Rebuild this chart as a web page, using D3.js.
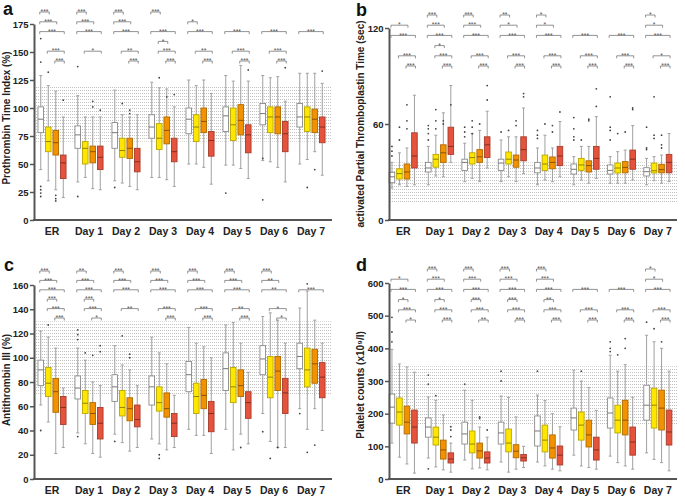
<!DOCTYPE html>
<html>
<head>
<meta charset="utf-8">
<script src="https://cdn.jsdelivr.net/npm/d3@7"></script>
<style>
body { margin: 0; background: #fff; }
text { font-family: "Liberation Sans", Arial, sans-serif; }
</style>
</head>
<body>
<div id="chart"></div>
<script>
// Width and height
var chart_width  = 685;
var chart_height = 498;

// categories and groups
var days   = ["ER", "Day 1", "Day 2", "Day 3", "Day 4", "Day 5", "Day 6", "Day 7"];
var groups = ["g1", "g2", "g3", "g4"];
var group_fill = ["#ffffff", "#ffe600", "#f39200", "#e5533c"];

// box stats per day, per group: [low whisker, q1, median, q3, high whisker]
var pt_stats = [
  [[45,78,90,101,129],[35,61,70,83,120],[27,58,69,80,115],[20,37,51,58,92]],
  [[34,64,76,84,111],[38,50,64,70,92],[28,51,61,66,92],[27,45,56,66,92]],
  [[35,64,78,87,116],[33,56,62,73,94],[30,55,64,73,92],[27,43,52,64,94]],
  [[38,73,83,94,123],[38,63,73,86,118],[36,68,80,92,117],[30,52,61,73,101]],
  [[50,77,90,100,125],[50,70,83,94,120],[47,78,88,100,125],[32,57,71,79,113]],
  [[49,79,93,101,129],[49,71,85,100,124],[46,76,89,103,138],[37,60,76,85,124]],
  [[53,85,95,104,129],[52,78,92,101,127],[47,77,92,101,128],[34,61,77,88,106]],
  [[50,83,92,104,131],[54,79,92,101,131],[61,78,90,99,131],[40,69,83,92,122]]
];
var aptt_stats = [
  [[20,23.3,27,29.8,36],[22,25.6,29,32,42],[21,25.6,30,35,45],[22,32.5,40,54.5,78]],
  [[22,30,32.5,36,46],[27.5,33,38,41,53],[27,36,42,47,67],[36,41,46,58,84]],
  [[24,31,36,38,48],[26,35,39,42,54],[24,36,39.5,44,56],[32.5,39,47,52,68]],
  [[24,31,35.6,38,50],[27,35,38,42.5,52],[24,33,37.5,40.6,52],[29,37,44,52,70]],
  [[22,29.5,32.5,36,45],[25,31,35,40.6,53],[24,32,36,39.4,45],[27,34,40,46,61.5]],
  [[22,28.7,31.7,35,39.6],[25,31,34.4,38.5,46],[23,30,34,37,46],[26,31.7,38.5,46,64.6]],
  [[23,28.7,31,34.4,39.6],[23,29.4,32.5,35.6,42.7],[23,29.5,32.9,36.5,43.7],[25,31.7,38,43.7,59]],
  [[22,27.5,30.2,32.7,38.5],[24.6,29.4,30.8,35.6,39.6],[23,29.5,31.5,34.8,40.6],[24,29.5,36,41,54]]
];
var at_stats = [
  [[61,77,90,98,122],[47,68,79,92,117],[21,55,72,83,108],[26,45,59,68,75]],
  [[38,66,75,85,108],[29,54,62.5,73,98],[21,45,54,63,80],[18,33,46,59,77]],
  [[37,64,76,86,110],[30,52,59,73,94],[23,48,58,67,90],[26,43,49,61,77]],
  [[33,61,76,85,117],[29,56,63,76,104],[24,51,58,71,95],[26,35,46,54,69]],
  [[41,72,86,97,125],[36,54,68,79,112],[36,58,69,82,109],[21,39,54,64,100]],
  [[41,73,91,104,127],[24,63,76,92,129],[37,68,77,90,112],[29,50,63,72,88]],
  [[54,86,99,110,134],[31,67,84,101,137],[26,73,89,101,131],[26,54,71,83,112]],
  [[58,91,101,112,141],[41,76,90,108,155],[58,79,95,107,131],[40,67,84,96,112]]
];
var plt_stats = [
  [[110,171,220,260,397],[67,165,205,248,352],[46,138,174,223,343],[18,110,159,211,327]],
  [[64,128,159,187,251],[37,104,128,159,241],[28,61,89,119,196],[21,49,61,80,110]],
  [[58,107,138,174,272],[31,80,107,147,241],[34,64,86,110,159],[28,49,64,83,128]],
  [[52,107,141,174,254],[21,83,110,153,250],[30,65,85,105,190],[35,55,65,75,100]],
  [[52,101,147,193,257],[40,83,119,165,240],[30,64,95,135,200],[25,43,73,101,160]],
  [[73,150,187,217,333],[40,119,165,205,300],[35,98,135,180,280],[30,58,89,128,210]],
  [[70,156,202,248,379],[50,141,180,226,330],[40,135,180,241,350],[30,73,113,159,250]],
  [[80,180,226,287,440],[60,156,226,278,420],[50,150,217,272,400],[25,104,144,211,330]]
];

// outliers: [day, group, value]
var pt_out = [
  [0,0,162],[0,0,141],[0,0,30],[0,0,27],[0,0,24],[0,0,21],[0,1,132],[0,2,22],[0,2,19],[0,2,17],[0,3,107],
  [1,0,137],[1,0,21],[1,2,106],[1,2,101],[1,3,98],
  [2,0,29],[2,1,104],[2,2,98],[2,2,95],
  [3,1,127],[3,2,110],[3,3,112],
  [5,0,24],[5,3,134],
  [6,0,18],[6,0,55],[6,3,136],
  [7,1,29],[7,2,45],[7,3,133]
];
var aptt_out = [
  [0,0,46],[0,0,43],[0,0,40],[0,1,50],[0,1,58],[0,2,62],[0,2,72],[0,2,57],
  [1,0,50],[1,0,57],[1,0,59],[1,0,54],[1,1,62],[1,1,69],[1,1,57],[1,2,60],[1,2,62],[1,3,72],
  [2,0,55],[2,0,58],[2,0,52],[2,1,62],[2,1,58],[2,1,54],[2,2,60],[2,3,84],[2,3,75],
  [3,0,55],[3,1,56],[3,2,59],[3,2,62],[3,3,79],[3,3,77],
  [4,0,56],[4,0,53],[4,0,51],[4,1,60],[4,2,59],[4,2,55],[4,3,67.5],
  [5,0,64],[5,0,57],[5,0,52],[5,0,50],[5,1,50],[5,2,63],[5,2,62],[5,3,71],[5,3,82],
  [6,0,77],[6,0,58],[6,0,56],[6,0,50],[6,1,54],[6,2,55],[6,3,69],[6,3,70],
  [7,0,58],[7,0,45],[7,0,44],[7,1,77],[7,1,53],[7,1,51],[7,2,53],[7,2,47],[7,2,45]
];
var at_out = [
  [0,0,40],[0,1,127],
  [1,0,123],[1,0,119],[1,0,115],[1,0,35],[1,1,104],[1,2,102],[1,3,110],[1,3,105],
  [2,0,31],[2,1,118],[2,2,100],[2,2,103],
  [3,1,17],[3,1,20],
  [5,2,26],
  [6,0,39],[6,1,17],[6,2,26],
  [7,0,54],[7,1,22],[7,1,161],[7,2,28]
];
var plt_out = [
  [0,0,495],[0,0,450],[0,0,420],
  [1,0,318],[1,0,290],[1,0,31],[1,1,255],[1,3,130],[1,3,150],[1,3,160],
  [2,0,290],[2,2,185],[2,2,190],[2,3,150],
  [3,0,330],[3,0,300],
  [4,0,330],
  [5,1,330],
  [6,0,420],[6,0,400],[6,0,390],[6,1,380],[6,2,430],[6,2,400],
  [7,0,480],[7,1,460],[7,2,420]
];

// significance: [day, group a, group b, label, level]
var pt_sig = [
  [0,0,1,"***",0],[0,0,2,"***",1],[0,0,3,"***",2],[0,1,3,"***",4],[0,2,3,"***",5],
  [1,0,1,"***",0],[1,0,2,"***",1],[1,0,3,"***",2],[1,1,3,"*",4],
  [2,0,1,"***",0],[2,0,2,"***",1],[2,0,3,"***",2],[2,1,3,"**",4],[2,2,3,"***",5],
  [3,0,1,"***",0],[3,0,3,"***",2],[3,1,2,"*",3],[3,1,3,"***",4],[3,2,3,"***",5],
  [4,0,1,"*",1],[4,0,3,"***",2],[4,1,3,"**",4],[4,2,3,"***",5],
  [5,0,3,"***",2],[5,1,3,"***",4],[5,2,3,"***",5],
  [6,0,3,"***",2],[6,1,3,"***",4],[6,2,3,"***",5],
  [7,0,3,"***",2]
];
var aptt_sig = [
  [0,0,2,"*",1],[0,0,3,"***",2],[0,1,3,"***",4],[0,2,3,"***",5],
  [1,0,1,"***",0],[1,0,2,"***",1],[1,0,3,"***",2],[1,1,2,"*",3],[1,1,3,"***",4],[1,2,3,"***",5],
  [2,0,1,"***",0],[2,0,2,"***",1],[2,0,3,"***",2],[2,1,3,"***",4],[2,2,3,"***",5],
  [3,0,1,"**",0],[3,0,2,"*",1],[3,0,3,"***",2],[3,1,3,"***",4],[3,2,3,"***",5],
  [4,0,1,"*",0],[4,0,2,"*",1],[4,0,3,"***",2],[4,1,3,"***",4],[4,2,3,"***",5],
  [5,0,3,"***",2],[5,1,3,"***",4],[5,2,3,"***",5],
  [6,0,3,"***",2],[6,1,3,"***",4],[6,2,3,"***",5],
  [7,0,1,"*",0],[7,0,2,"*",1],[7,0,3,"***",2],[7,1,3,"*",4],[7,2,3,"***",5]
];
var at_sig = [
  [0,0,1,"***",0],[0,0,2,"***",1],[0,0,3,"***",2],[0,1,2,"***",3],[0,1,3,"***",4],[0,2,3,"***",5],
  [1,0,1,"**",0],[1,0,2,"***",1],[1,0,3,"***",2],[1,1,2,"***",3],[1,1,3,"***",4],[1,2,3,"*",5],
  [2,0,1,"***",0],[2,0,2,"***",1],[2,0,3,"***",2],[2,1,3,"**",4],
  [3,0,1,"***",0],[3,0,2,"***",1],[3,0,3,"***",2],[3,1,3,"***",4],[3,2,3,"***",5],
  [4,0,1,"***",0],[4,0,2,"***",1],[4,0,3,"***",2],[4,1,3,"***",4],[4,2,3,"***",5],
  [5,0,1,"***",0],[5,0,2,"***",1],[5,0,3,"***",2],[5,1,3,"**",4],[5,2,3,"***",5],
  [6,0,1,"***",0],[6,0,2,"**",1],[6,0,3,"**",2],[6,1,3,"*",4],[6,2,3,"*",5],
  [7,0,3,"***",2]
];
var plt_sig = [
  [0,0,2,"*",1],[0,0,3,"***",2],[0,1,2,"*",3],[0,1,3,"***",4],[0,2,3,"*",5],
  [1,0,1,"***",0],[1,0,2,"***",1],[1,0,3,"***",2],[1,1,2,"*",3],[1,1,3,"***",4],[1,2,3,"***",5],
  [2,0,1,"***",0],[2,0,2,"***",1],[2,0,3,"***",2],[2,1,2,"***",3],[2,1,3,"***",4],[2,2,3,"**",5],
  [3,0,1,"***",0],[3,0,2,"***",1],[3,0,3,"***",2],[3,1,2,"***",3],[3,1,3,"***",4],[3,2,3,"***",5],
  [4,0,1,"***",0],[4,0,2,"***",1],[4,0,3,"***",2],[4,1,2,"**",3],[4,1,3,"***",4],[4,2,3,"***",5],
  [5,0,3,"***",2],[5,1,3,"***",4],[5,2,3,"***",5],
  [6,0,3,"***",2],[6,1,3,"***",4],[6,2,3,"***",5],
  [7,0,1,"*",0],[7,0,2,"*",1],[7,0,3,"***",2],[7,1,3,"***",4],[7,2,3,"***",5]
];

// tick values and normal ranges
var pt_ticks   = [0,25,50,75,100,125,150,175];
var aptt_ticks = [0,60,120];
var at_ticks   = [0,20,40,60,80,100,120,140,160];
var plt_ticks  = [0,100,200,300,400,500,600];
var pt_normal   = [70,120];
var aptt_normal = [11,36];
var at_normal   = [70,130];
var plt_normal  = [165,345];

var panels = [
  {letter:"a", lx:3,   ly:15,  stats:pt_stats,   out:pt_out,   sig:pt_sig,   ticks:pt_ticks,   normal:pt_normal,
   title:"Prothrombin Time Index (%)", tx:6, ty:118, axis:[34,332], band:[33.5,329.5], yr:[220,24], sigY:12, sigStep:9.8},
  {letter:"b", lx:356, ly:16,  stats:aptt_stats, out:aptt_out, sig:aptt_sig, ticks:aptt_ticks, normal:aptt_normal,
   title:"activated Partial Thromboplastin Time (sec)", tx:360, ty:124, axis:[389,677], band:[385,676], yr:[220,28], sigY:15, sigStep:10.2},
  {letter:"c", lx:4,   ly:271, stats:at_stats,   out:at_out,   sig:at_sig,   ticks:at_ticks,   normal:at_normal,
   title:"Antithrombin III (%)", tx:6, ty:380, axis:[34,332], band:[33.5,329.5], yr:[479,285], sigY:271, sigStep:9.4},
  {letter:"d", lx:356, ly:271, stats:plt_stats,  out:plt_out,  sig:plt_sig,  ticks:plt_ticks,  normal:plt_normal,
   title:"Platelet counts (x10\u2079/l)", tx:360, ty:385, axis:[389,677], band:[385,676], yr:[479,283], sigY:269, sigStep:10.2}
];

// Create SVG
var svg = d3.select("#chart")
    .append("svg")
    .attr("width", chart_width)
    .attr("height", chart_height);

// dotted texture for the normal range
svg.append("defs")
    .append("pattern")
    .attr("id", "dots")
    .attr("patternUnits", "userSpaceOnUse")
    .attr("width", 2)
    .attr("height", 3)
    .append("rect")
    .attr("width", 1)
    .attr("height", 1)
    .attr("fill", "#c2c2c2");

panels.forEach(draw_panel);

function draw_panel(p){
  var g = svg.append("g");

  var x  = d3.scaleBand().domain(days).range(p.band);
  var xg = d3.scaleBand().domain(groups).range([-15, 15]);
  var y  = d3.scaleLinear().domain([0, p.ticks[p.ticks.length - 1]]).range(p.yr);
  var bw = 5.6;

  function cx(day, grp){
    return x(days[day]) + x.bandwidth() / 2 + xg(groups[grp]) + xg.bandwidth() / 2;
  }

  // normal range band
  g.append("rect")
    .attr("x", p.axis[0] + 1)
    .attr("width", p.axis[1] - p.axis[0] - 1)
    .attr("y", y(p.normal[1]))
    .attr("height", y(p.normal[0]) - y(p.normal[1]))
    .attr("fill", "url(#dots)");

  // flatten stats into a list of boxes
  var boxes = [];
  p.stats.forEach(function(dayStats, i){
    dayStats.forEach(function(s, j){
      boxes.push({day:i, grp:j, s:s});
    });
  });

  var bg = g.selectAll("g.box")
    .data(boxes)
    .enter()
    .append("g")
    .attr("class", "box");

  // whiskers
  bg.append("path")
    .attr("d", function(d){
      var c = cx(d.day, d.grp);
      return "M" + c + "," + y(d.s[4]) + "V" + y(d.s[3]) +
             "M" + c + "," + y(d.s[1]) + "V" + y(d.s[0]) +
             "M" + (c - 1.5) + "," + y(d.s[4]) + "H" + (c + 1.5) +
             "M" + (c - 1.5) + "," + y(d.s[0]) + "H" + (c + 1.5);
    })
    .attr("stroke", "#a0a0a0")
    .attr("stroke-width", 1)
    .attr("fill", "none");

  // boxes
  bg.append("rect")
    .attr("x", function(d){ return cx(d.day, d.grp) - bw / 2; })
    .attr("width", bw)
    .attr("y", function(d){ return y(d.s[3]); })
    .attr("height", function(d){ return y(d.s[1]) - y(d.s[3]); })
    .attr("fill", function(d){ return group_fill[d.grp]; })
    .attr("stroke", function(d){ return d.grp == 0 ? "#8a8a8a" : d3.color(group_fill[d.grp]).darker(0.9); })
    .attr("stroke-width", 0.9);

  // medians
  bg.append("line")
    .attr("x1", function(d){ return cx(d.day, d.grp) - bw / 2; })
    .attr("x2", function(d){ return cx(d.day, d.grp) + bw / 2; })
    .attr("y1", function(d){ return y(d.s[2]); })
    .attr("y2", function(d){ return y(d.s[2]); })
    .attr("stroke", function(d){ return d.grp == 0 ? "#777" : d3.color(group_fill[d.grp]).darker(1.6); })
    .attr("stroke-width", 1);

  // outliers
  g.selectAll("circle.out")
    .data(p.out)
    .enter()
    .append("circle")
    .attr("class", "out")
    .attr("cx", function(d){ return cx(d[0], d[1]); })
    .attr("cy", function(d){ return y(d[2]); })
    .attr("r", 0.9)
    .attr("fill", "#444");

  // significance brackets
  var sg = g.selectAll("g.sig")
    .data(p.sig)
    .enter()
    .append("g")
    .attr("class", "sig");

  sg.append("path")
    .attr("d", function(d){
      var x1 = cx(d[0], d[1]) - 1, x2 = cx(d[0], d[2]) + 1;
      var yy = p.sigY + d[4] * p.sigStep;
      return "M" + x1 + "," + (yy + 2.5) + "V" + yy + "H" + x2 + "V" + (yy + 2.5);
    })
    .attr("stroke", "#777")
    .attr("stroke-width", 0.8)
    .attr("fill", "none");

  sg.append("text")
    .attr("x", function(d){ return (cx(d[0], d[1]) + cx(d[0], d[2])) / 2; })
    .attr("y", function(d){ return p.sigY + d[4] * p.sigStep + 2.2; })
    .attr("text-anchor", "middle")
    .attr("font-size", "6.8px")
    .attr("fill", "#555")
    .text(function(d){ return d[3]; });

  // y axis
  var yAxis = d3.axisLeft(y)
    .tickValues(p.ticks)
    .tickSize(4)
    .tickSizeOuter(0)
    .tickPadding(1.5);

  var ya = g.append("g")
    .attr("transform", "translate(" + p.axis[0] + ",0)")
    .call(yAxis);
  ya.select(".domain").attr("stroke", "#555").attr("stroke-width", 2);
  ya.selectAll(".tick line").attr("stroke", "#555").attr("stroke-width", 1.5);
  ya.selectAll(".tick text")
    .attr("font-size", "9.5px")
    .attr("font-weight", "bold")
    .attr("font-family", "Liberation Sans, Arial, sans-serif")
    .attr("fill", "#222");

  // x axis line and labels
  g.append("line")
    .attr("x1", p.axis[0] - 1)
    .attr("x2", p.axis[1])
    .attr("y1", y(0))
    .attr("y2", y(0))
    .attr("stroke", "#555")
    .attr("stroke-width", 2);

  g.selectAll("text.day")
    .data(days)
    .enter()
    .append("text")
    .attr("class", "day")
    .attr("x", function(d){ return x(d) + x.bandwidth() / 2; })
    .attr("y", y(0) + 15)
    .attr("text-anchor", "middle")
    .attr("font-size", "10.5px")
    .attr("font-weight", "bold")
    .attr("fill", "#222")
    .text(function(d){ return d; });

  // axis title
  g.append("text")
    .attr("transform", "translate(" + p.tx + "," + p.ty + ") rotate(-90)")
    .attr("text-anchor", "middle")
    .attr("dy", "0.35em")
    .attr("font-size", "10px")
    .attr("font-weight", "bold")
    .attr("fill", "#222")
    .text(p.title);

  // panel letter
  g.append("text")
    .attr("x", p.lx)
    .attr("y", p.ly)
    .attr("font-size", "18px")
    .attr("font-weight", "bold")
    .attr("fill", "#111")
    .text(p.letter);
}
</script>
</body>
</html>
